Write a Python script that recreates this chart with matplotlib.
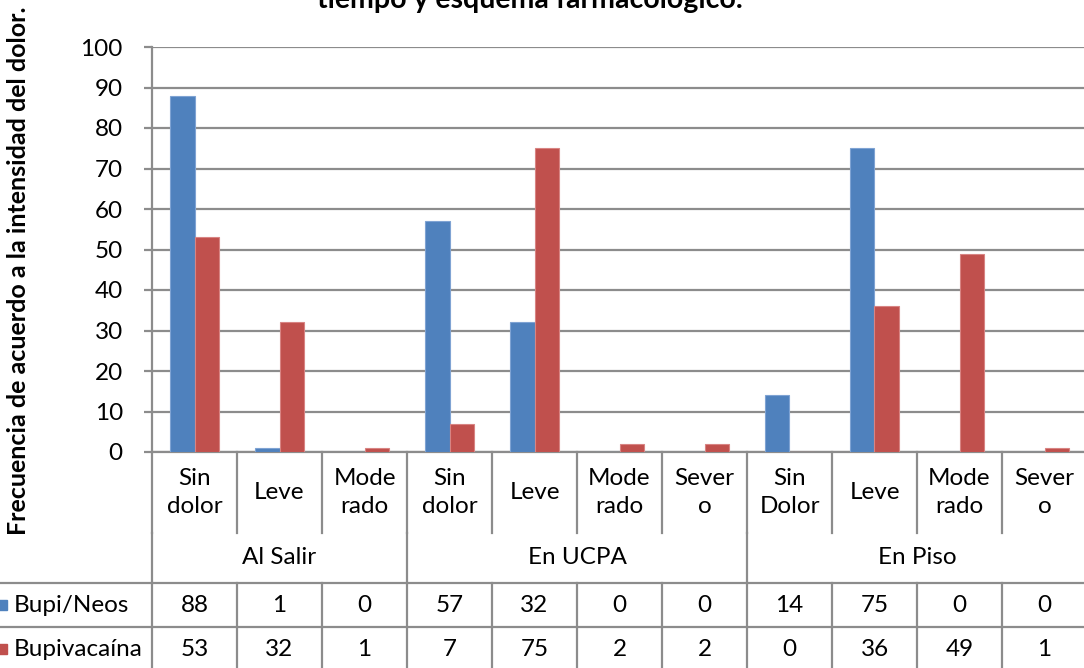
import matplotlib
matplotlib.use("Agg")
import matplotlib.pyplot as plt
import matplotlib.transforms as mtransforms
import numpy as np

plt.rcParams["font.family"] = ["Lato", "DejaVu Sans"]

# ---- data -------------------------------------------------------------
categories = ["Sin\ndolor", "Leve", "Mode\nrado",
              "Sin\ndolor", "Leve", "Mode\nrado", "Sever\no",
              "Sin\nDolor", "Leve", "Mode\nrado", "Sever\no"]
groups = ["Al Salir", "En UCPA", "En Piso"]
group_sizes = [3, 4, 4]
series_names = ["Bupi/Neos", "Bupivacaína"]
bupi_neos = [88, 1, 0, 57, 32, 0, 0, 14, 75, 0, 0]
bupivacaina = [53, 32, 1, 7, 75, 2, 2, 0, 36, 49, 1]
yticks = list(range(0, 101, 10))

title = "tiempo y esquema farmacológico."
ylabel = "Frecuencia de acuerdo a la intensidad del dolor."

# ---- style ------------------------------------------------------------
colors = ["#4F81BD", "#C0504D"]
edges = ["#7FA3D3", "#D88483"]
grid_c = "#8C8C8C"
W, H = 1084, 668
fs = 17.5

fig = plt.figure(figsize=(W / 100, H / 100), dpi=100)

def px_box(x0, y0, x1, y1):
    """Figure-fraction rectangle from pixel edges (top-left origin)."""
    return [x0 / W, 1 - y1 / H, (x1 - x0) / W, (y1 - y0) / H]

n = len(categories)
left_px, right_px, top_px, base_px = 152, 1087, 47, 452
ax = fig.add_axes(px_box(left_px, top_px, right_px, base_px))

x = np.arange(n)
gap = 1.5
bw = 1.0 / (2 + gap)
series = [bupi_neos, bupivacaina]
for i, vals in enumerate(series):
    ax.bar(x + (i - 0.5) * bw, vals, width=bw, color=colors[i],
           edgecolor=edges[i], linewidth=0.8, zorder=3)

ax.set_xlim(-0.5, n - 0.5)
ax.set_ylim(0, 100)
ax.set_yticks(yticks)
ax.set_yticklabels([str(t) for t in yticks], fontsize=fs)
ax.set_xticks([])
ax.yaxis.grid(True, color=grid_c, linewidth=1.6, zorder=0)
ax.set_axisbelow(True)
for s in ["top", "right"]:
    ax.spines[s].set_visible(False)
for s in ["left", "bottom"]:
    ax.spines[s].set_color(grid_c)
    ax.spines[s].set_linewidth(1.6)
ax.tick_params(axis="y", length=6, width=1.6, color=grid_c, pad=15)

# rotated axis title, centred at a fixed pixel position
fig.text(19 / W, 1 - 271 / H, ylabel, rotation=90, ha="center", va="center",
         fontsize=18, fontweight="bold")
fig.text(530 / W, 1 - 8 / H, title, ha="center", va="baseline",
         fontsize=20.5, fontweight="bold")

# ---- data table below the axis ---------------------------------------
row_edges = [0, 81, 131, 175, 219]   # category, group, series rows (px)
tax = fig.add_axes(px_box(left_px, base_px, right_px, base_px + row_edges[-1]))
tax.set_xlim(-0.5, n - 0.5)
tax.set_ylim(row_edges[-1], 0)
tax.axis("off")

line_kw = dict(color=grid_c, linewidth=1.6, clip_on=False)
# vertical separators
bounds = np.arange(n + 1) - 0.5
group_bounds = np.concatenate([[0], np.cumsum(group_sizes)]) - 0.5
for b in bounds:
    tax.plot([b, b], [row_edges[0], row_edges[1]], **line_kw)
    tax.plot([b, b], [row_edges[2], row_edges[4]], **line_kw)
for b in group_bounds:
    tax.plot([b, b], [row_edges[1], row_edges[2]], **line_kw)

# horizontal separators extending into the legend column
blend = mtransforms.blended_transform_factory(fig.transFigure, tax.transData)
for r in row_edges[2:]:
    tax.plot([0, 1], [r, r], transform=blend, **line_kw)

# category labels
for i, c in enumerate(categories):
    tax.text(i, (row_edges[0] + row_edges[1]) / 2, c, ha="center",
             va="center", fontsize=fs, linespacing=1.45)
# group labels
start = 0
for g, size in zip(groups, group_sizes):
    tax.text(start + (size - 1) / 2, (row_edges[1] + row_edges[2]) / 2 - 1, g,
             ha="center", va="center", fontsize=fs)
    start += size
# series rows with legend keys
for k, (name, vals) in enumerate(zip(series_names, series)):
    yc = (row_edges[2 + k] + row_edges[3 + k]) / 2
    for i, v in enumerate(vals):
        tax.text(i, yc, str(v), ha="center", va="center", fontsize=fs)
    fig.patches.append(plt.Rectangle((-3 / W, 1 - (base_px + yc + 5) / H),
                                     10 / W, 10 / H, transform=fig.transFigure,
                                     color=colors[k], figure=fig))
    tax.text(14 / W, yc, name, transform=blend, ha="left", va="center",
             fontsize=fs)

fig.savefig("out.png", dpi=100)
